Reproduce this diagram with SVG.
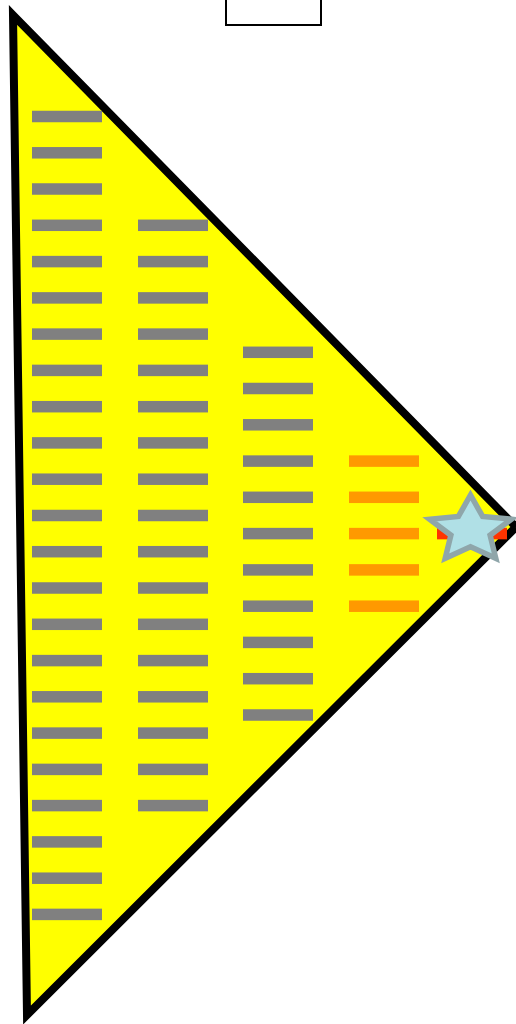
<svg xmlns="http://www.w3.org/2000/svg" xmlns:xlink="http://www.w3.org/1999/xlink" width="516" height="1024" viewBox="0 0 516 1024">
<style>
.bar{fill:#808080}
.ob{fill:#ff9900}
.rb{fill:#ff3300}
</style>
<defs>
<rect id="b" x="0" y="-5.75" width="70" height="11.5"/>
</defs>
<rect width="516" height="1024" fill="#ffffff"/>
<g id="topbox"><rect x="226" y="-2" width="95" height="27" fill="none" stroke="#000" stroke-width="2"/></g>
<g id="triangle"><polygon points="13,15 516,527 27,1015" fill="#ffff00" stroke="#000" stroke-width="8" stroke-linejoin="miter"/></g>
<g id="col1" class="bar">
<use xlink:href="#b" x="32" y="116.5"/><use xlink:href="#b" x="32" y="152.8"/><use xlink:href="#b" x="32" y="189.0"/><use xlink:href="#b" x="32" y="225.3"/><use xlink:href="#b" x="32" y="261.6"/><use xlink:href="#b" x="32" y="297.9"/><use xlink:href="#b" x="32" y="334.1"/><use xlink:href="#b" x="32" y="370.4"/><use xlink:href="#b" x="32" y="406.7"/><use xlink:href="#b" x="32" y="442.9"/><use xlink:href="#b" x="32" y="479.2"/><use xlink:href="#b" x="32" y="515.5"/><use xlink:href="#b" x="32" y="551.7"/><use xlink:href="#b" x="32" y="588.0"/><use xlink:href="#b" x="32" y="624.3"/><use xlink:href="#b" x="32" y="660.6"/><use xlink:href="#b" x="32" y="696.8"/><use xlink:href="#b" x="32" y="733.1"/><use xlink:href="#b" x="32" y="769.4"/><use xlink:href="#b" x="32" y="805.6"/><use xlink:href="#b" x="32" y="841.9"/><use xlink:href="#b" x="32" y="878.2"/><use xlink:href="#b" x="32" y="914.4"/>
</g>
<g id="col2" class="bar">
<use xlink:href="#b" x="138" y="225.3"/><use xlink:href="#b" x="138" y="261.6"/><use xlink:href="#b" x="138" y="297.9"/><use xlink:href="#b" x="138" y="334.1"/><use xlink:href="#b" x="138" y="370.4"/><use xlink:href="#b" x="138" y="406.7"/><use xlink:href="#b" x="138" y="442.9"/><use xlink:href="#b" x="138" y="479.2"/><use xlink:href="#b" x="138" y="515.5"/><use xlink:href="#b" x="138" y="551.7"/><use xlink:href="#b" x="138" y="588.0"/><use xlink:href="#b" x="138" y="624.3"/><use xlink:href="#b" x="138" y="660.6"/><use xlink:href="#b" x="138" y="696.8"/><use xlink:href="#b" x="138" y="733.1"/><use xlink:href="#b" x="138" y="769.4"/><use xlink:href="#b" x="138" y="805.6"/>
</g>
<g id="col3" class="bar">
<use xlink:href="#b" x="243" y="352.3"/><use xlink:href="#b" x="243" y="388.5"/><use xlink:href="#b" x="243" y="424.8"/><use xlink:href="#b" x="243" y="461.1"/><use xlink:href="#b" x="243" y="497.3"/><use xlink:href="#b" x="243" y="533.6"/><use xlink:href="#b" x="243" y="569.9"/><use xlink:href="#b" x="243" y="606.2"/><use xlink:href="#b" x="243" y="642.4"/><use xlink:href="#b" x="243" y="678.7"/><use xlink:href="#b" x="243" y="715.0"/>
</g>
<g id="col4" class="ob">
<use xlink:href="#b" x="349" y="461.1"/><use xlink:href="#b" x="349" y="497.3"/><use xlink:href="#b" x="349" y="533.6"/><use xlink:href="#b" x="349" y="569.9"/><use xlink:href="#b" x="349" y="606.2"/>
</g>
<g id="col5" class="rb"><use xlink:href="#b" x="437" y="533.6"/></g>
<g id="star"><polygon points="470.5,495 482.6,516.4 511.4,519.2 490.1,535.2 495.8,558.3 470.5,546.8 445.2,558.3 450.9,535.2 429.6,519.2 458.4,516.4" fill="#b0e0e6" stroke="#8fa6aa" stroke-width="5.5" stroke-linejoin="miter"/></g>
</svg>
